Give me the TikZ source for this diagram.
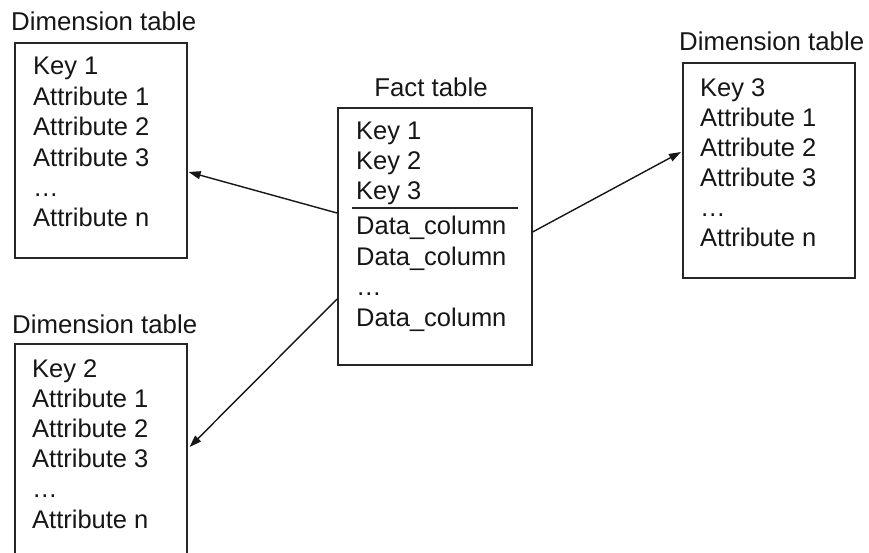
\documentclass[tikz,border=0pt]{standalone}
\usepackage{fontspec}
\setmainfont{Liberation Sans}
\usetikzlibrary{arrows.meta}
\definecolor{ink}{HTML}{161616}
\definecolor{frame}{HTML}{262626}
\tikzset{
  tablebox/.style={draw=frame, line width=1.6pt, inner sep=0pt, anchor=north west, fill=white},
  rowtext/.style={anchor=base west, inner sep=0pt, text=ink, font=\fontsize{25.5}{30}\selectfont},
  caption/.style={inner sep=0pt, text=ink, font=\fontsize{25.8}{30}\selectfont},
  link/.style={draw=ink, line width=1.4pt, -{Triangle[length=12pt,width=8pt]}},
}
\begin{document}
\begin{tikzpicture}[x=1pt,y=-1pt]
\useasboundingbox (0,0) rectangle (869,553);
\clip (0,0) rectangle (869,553);
\fill[white] (0,0) rectangle (869,553);

% boxes
\node[tablebox, minimum width=172pt, minimum height=215pt] (d1) at (14,42) {};
\node[tablebox, minimum width=194pt, minimum height=257pt] (fact) at (337,107) {};
\node[tablebox, minimum width=172pt, minimum height=215pt] (d3) at (682,62) {};
\node[tablebox, minimum width=172pt, minimum height=215pt] (d2) at (14,343) {};

% captions
\node[caption, anchor=base west] (d1cap) at (11,31) {Dimension table};
\node[caption, anchor=base] (factcap) at (431,97) {Fact table};
\node[caption, anchor=base west] (d3cap) at (679,51) {Dimension table};
\node[caption, anchor=base west] (d2cap) at (12,333) {Dimension table};

% dimension table rows
\foreach \txt [count=\i from 0] in {Key 1, Attribute 1, Attribute 2, Attribute 3, …, Attribute n}
  \node[rowtext] (d1r\i) at (33,75+30.4*\i) {\txt};
\foreach \txt [count=\i from 0] in {Key 3, Attribute 1, Attribute 2, Attribute 3, …, Attribute n}
  \node[rowtext] (d3r\i) at (700,97+30*\i) {\txt};
\foreach \txt [count=\i from 0] in {Key 2, Attribute 1, Attribute 2, Attribute 3, …, Attribute n}
  \node[rowtext] (d2r\i) at (32,377+30.2*\i) {\txt};

% fact table rows
\foreach \txt/\yy [count=\i from 0] in {Key 1/140, Key 2/170, Key 3/200, Data\_column/235, Data\_column/265, …/295, Data\_column/326}
  \node[rowtext] (fr\i) at (356,\yy) {\txt};

% separator between keys and measures
\draw[draw=frame, line width=1.6pt] ([xshift=15pt,yshift=-101pt]fact.north west) -- ([xshift=-15pt,yshift=-101pt]fact.north east);

% foreign key links
\draw[link] ([yshift=-106pt]fact.north west) -- ([xshift=1pt,yshift=-130pt]d1.north east);
\draw[link] ([yshift=-125pt]fact.north east) -- ([xshift=-1pt,yshift=-90pt]d3.north west);
\draw[link] ([yshift=-192pt]fact.north west) -- ([xshift=2pt,yshift=-104pt]d2.north east);
\end{tikzpicture}
\end{document}
